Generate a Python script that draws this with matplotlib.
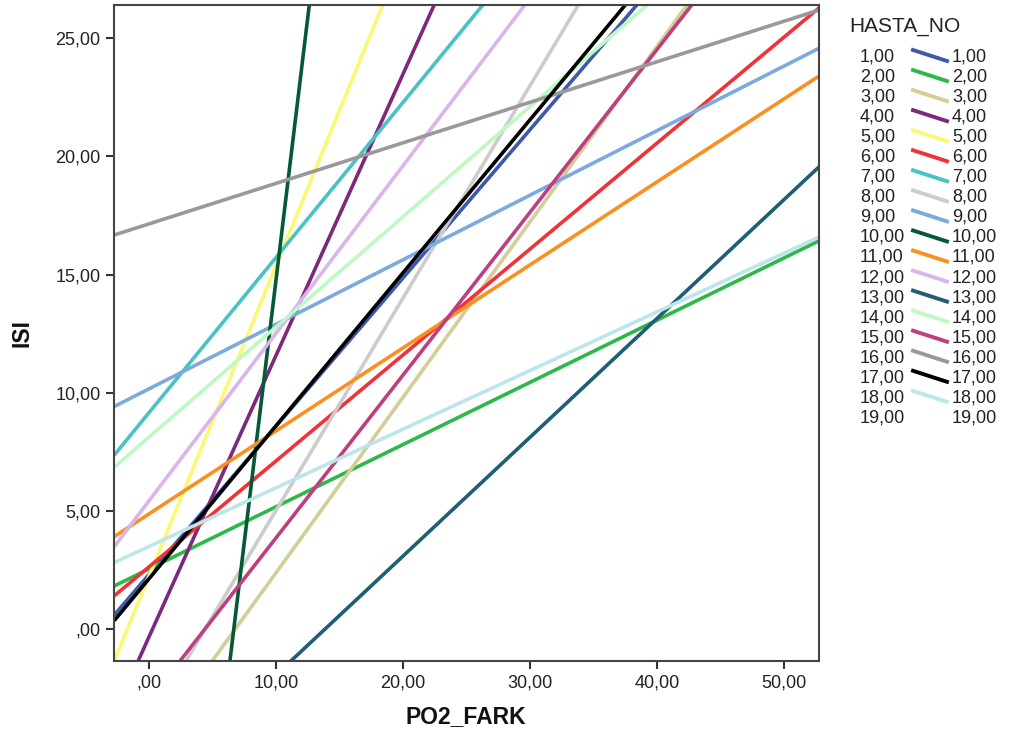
import numpy as np
import matplotlib
matplotlib.use("Agg")
import matplotlib.pyplot as plt
from matplotlib.lines import Line2D
from matplotlib.ticker import FuncFormatter, MultipleLocator

# ---- data: fitted lines ISI = intercept + slope * PO2_FARK, per HASTA_NO ----
categories = ["1,00", "2,00", "3,00", "4,00", "5,00", "6,00", "7,00", "8,00", "9,00",
              "10,00", "11,00", "12,00", "13,00", "14,00", "15,00", "16,00", "17,00",
              "18,00", "19,00"]
intercepts = [2.32, 2.55, -5.03, -0.31, 2.26, 2.64, 9.17, -3.95, 10.17,
              -29.59, 4.88, 5.44, -6.96, 8.13, -3.02, 17.15, 2.14, 3.50, None]
slopes = [0.627, 0.263, 0.742, 1.190, 1.313, 0.448, 0.656, 0.898, 0.273,
          4.44, 0.351, 0.7085, 0.5025, 0.466, 0.6885, 0.1714, 0.647, 0.248, None]
colors = ["#3E58AC", "#2EB848", "#D3CE97", "#7C287D", "#FBF873", "#EF3338",
          "#48C2C5", "#CCCCCC", "#7BAADD", "#055934", "#FB9022", "#D9B5EB",
          "#1F5F73", "#BFF8C4", "#BE3F7F", "#999999", "#000000", "#BDE6EA", None]

x_label = "PO2_FARK"
y_label = "ISI"
legend_title = "HASTA_NO"

XMIN, XMAX = -2.75, 52.8
YMIN, YMAX = -1.35, 26.41

W, H = 1009, 738
fig = plt.figure(figsize=(W / 100, H / 100), dpi=100)
ax = fig.add_axes([114.3 / W, 1 - 661 / H, (819.3 - 114.3) / W, (661 - 5) / H])

xs = np.array([XMIN, XMAX])
for b, m, c in zip(intercepts, slopes, colors):
    if b is None:
        continue
    ax.plot(xs, b + m * xs, color=c, lw=2.6, solid_capstyle="butt")

ax.set_xlim(XMIN, XMAX)
ax.set_ylim(YMIN, YMAX)

def fmt(v, pos):
    s = f"{v:.2f}".replace(".", ",")
    if s.startswith("0,"):
        s = s[1:]
    if s == "-0,00":
        s = ",00"
    return s

ax.xaxis.set_major_locator(MultipleLocator(10))
ax.yaxis.set_major_locator(MultipleLocator(5))
ax.xaxis.set_major_formatter(FuncFormatter(fmt))
ax.yaxis.set_major_formatter(FuncFormatter(fmt))

font = "Liberation Sans"
ax.tick_params(axis="both", direction="out", length=6, width=1.5, color="#333333",
               labelsize=13, pad=4)
for lab in ax.get_xticklabels() + ax.get_yticklabels():
    lab.set_fontfamily(font)
    lab.set_color("#222222")
for sp in ax.spines.values():
    sp.set_color("#444444")
    sp.set_linewidth(1.5)

fig.text(466 / W, 1 - 717 / H, x_label, ha="center", va="center",
         fontsize=16.5, fontweight="bold", family=font, color="#111111")
fig.text(22 / W, 1 - 333 / H, y_label, ha="center", va="center", rotation=90,
         fontsize=16.5, fontweight="bold", family=font, color="#111111")

# ---- legend built manually (SPSS style: label, slanted swatch, label) ----
fig.text(849 / W, 1 - 26 / H, legend_title, ha="left", va="center",
         fontsize=15, family=font, color="#222222")
for i, (lab, c) in enumerate(zip(categories, colors)):
    yc = 57 + 20.05 * i
    fig.text(860 / W, 1 - yc / H, lab, ha="left", va="center",
             fontsize=13, family=font, color="#222222")
    if c is not None:
        fig.add_artist(Line2D([913 / W, 947 / W], [1 - (yc - 7) / H, 1 - (yc + 4) / H],
                              transform=fig.transFigure, color=c, lw=2.8))
    fig.text(952 / W, 1 - yc / H, lab, ha="left", va="center",
             fontsize=13, family=font, color="#222222")

fig.savefig("out.png", dpi=100)
